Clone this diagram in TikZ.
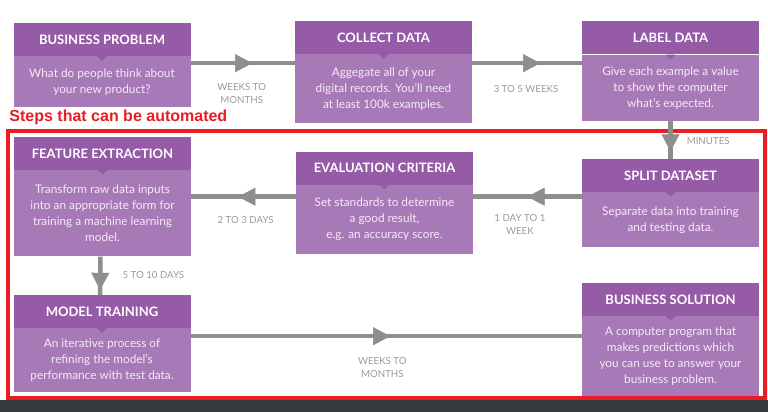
\documentclass[tikz,border=0pt]{standalone}
\usepackage{fontspec}
\setmainfont{Lato}
\newfontfamily\alertfont{Liberation Sans}
\usetikzlibrary{arrows.meta, positioning, calc, decorations.markings}

\definecolor{headc}{HTML}{955BA6}
\definecolor{bodyc}{HTML}{A879B7}
\definecolor{bodytxt}{HTML}{F6EAF7}
\definecolor{flowc}{HTML}{8E8E8E}
\definecolor{lblc}{HTML}{9A9A9A}
\definecolor{redc}{HTML}{EC1C24}
\definecolor{barc}{HTML}{34393D}

\begin{document}
\begin{tikzpicture}[
  x=1pt, y=-1pt,
  head/.style ={rectangle, fill=headc, text=white, minimum width=177pt,
                minimum height=33pt, inner sep=0pt,
                font=\bfseries\fontsize{13}{15}\selectfont},
  body/.style ={rectangle, fill=bodyc, text=bodytxt, minimum width=177pt,
                align=center, inner sep=0pt, font=\fontsize{11.8}{16}\selectfont},
  flow/.style ={line width=4.5pt, draw=flowc, postaction={decorate},
                decoration={markings, mark=at position #1 with
                  {\arrow[flowc, line width=0.5pt]{Triangle[length=17pt, width=18pt]}}}},
  lbl/.style  ={text=lblc, align=center, inner sep=0pt,
                font=\fontsize{9.7}{13}\selectfont},
  zone/.style ={rectangle, draw=redc, line width=3.5pt, inner sep=0pt},
]
\useasboundingbox (0,0) rectangle (768,412);
\fill[white] (0,0) rectangle (768,412);
\fill[barc] (0,400) rectangle (768,412);

% ---- top row ----
\node[head] (bph) at (102,39.5)   {BUSINESS PROBLEM};
\node[body, below=0pt of bph, minimum height=51pt] (bp)
  {What do people think about\\your new product?};

\node[head] (cdh) at (383.5,37.5) {COLLECT DATA};
\node[body, below=0pt of cdh, minimum height=69pt] (cd)
  {Aggegate all of your\\digital records. You'll need\\at least 100k examples.};

\node[head] (ldh) at (670.5,38)   {LABEL DATA};
\node[body, below=0pt of ldh, minimum height=66pt] (ld)
  {Give each example a value\\to show the computer\\what's expected.};

% ---- automated steps ----
\node[head] (feh) at (102.5,153.5) {FEATURE EXTRACTION};
\node[body, below=0pt of feh, minimum height=86pt] (fe)
  {Transform raw data inputs\\into an appropriate form for\\training a machine learning\\model.};

\node[head] (ech) at (384.5,168)   {EVALUATION CRITERIA};
\node[body, below=0pt of ech, minimum height=69pt] (ec)
  {Set standards to determine\\a good result,\\e.g. an accuracy score.};

\node[head] (sdh) at (670.5,175.5) {SPLIT DATASET};
\node[body, below=0pt of sdh, minimum height=55pt] (sd)
  {Separate data into training\\and testing data.};

\node[head] (mth) at (102,311.5)   {MODEL TRAINING};
\node[body, below=0pt of mth, minimum height=64pt] (mt)
  {An iterative process of\\refining the model's\\performance with test data.};

\node[head] (bsh) at (670.5,299.5) {BUSINESS SOLUTION};
\node[body, below=0pt of bsh, minimum height=80pt] (bs)
  {A computer program that\\makes predictions which\\you can use to answer your\\business problem.};

% small notches under the headers
\foreach \h in {bph,cdh,ldh,feh,ech,sdh,mth,bsh}
  \fill[headc] ($(\h.south)+(-5,0)$) -- ($(\h.south)+(5,0)$) -- ($(\h.south)+(0,4.5)$) -- cycle;

% ---- red frame ----
\node[zone, minimum width=757pt, minimum height=267pt] (zone) at (386.5,264.5) {};
\node[anchor=south west, inner sep=0pt, text=redc,
      font=\alertfont\bfseries\fontsize{16}{18}\selectfont]
  (auto) at ([xshift=3pt, yshift=4pt]zone.north west) {Steps that can be automated};

% ---- connectors ----
\coordinate (r1) at ([yshift=-7pt]bph.south east);
\coordinate (r2) at ([yshift=-12pt]ech.south);
\coordinate (r3) at ([yshift=-8pt]mth.south east);

\draw[flow=0.59] (r1) -- (r1 -| cd.west)
  node[lbl, pos=0.49, below=18pt] {WEEKS TO\\MONTHS};
\draw[flow=0.62] (cd.east |- r1) -- (ld.west |- r1)
  node[lbl, pos=0.49, below=20pt] {3 TO 5 WEEKS};
\draw[flow=0.8] (ld.south) -- (sdh.north)
  node[lbl, pos=0.53, right=14pt] {MINUTES};
\draw[flow=0.5] (sd.west |- r2) -- (ec.east |- r2)
  node[lbl, pos=0.57, below=16pt] {1 DAY TO 1\\WEEK};
\draw[flow=0.55] (ec.west |- r2) -- (fe.east |- r2)
  node[lbl, pos=0.48, below=18pt] {2 TO 3 DAYS};
\draw[flow=0.87] ([xshift=-2pt]fe.south) -- ([xshift=-2pt]mth.north)
  node[lbl, pos=0.49, right=20pt] {5 TO 10 DAYS};
\draw[flow=0.51] (r3) -- (r3 -| bs.west)
  node[lbl, pos=0.49, below=19pt] {WEEKS TO\\MONTHS};

\end{tikzpicture}
\end{document}
